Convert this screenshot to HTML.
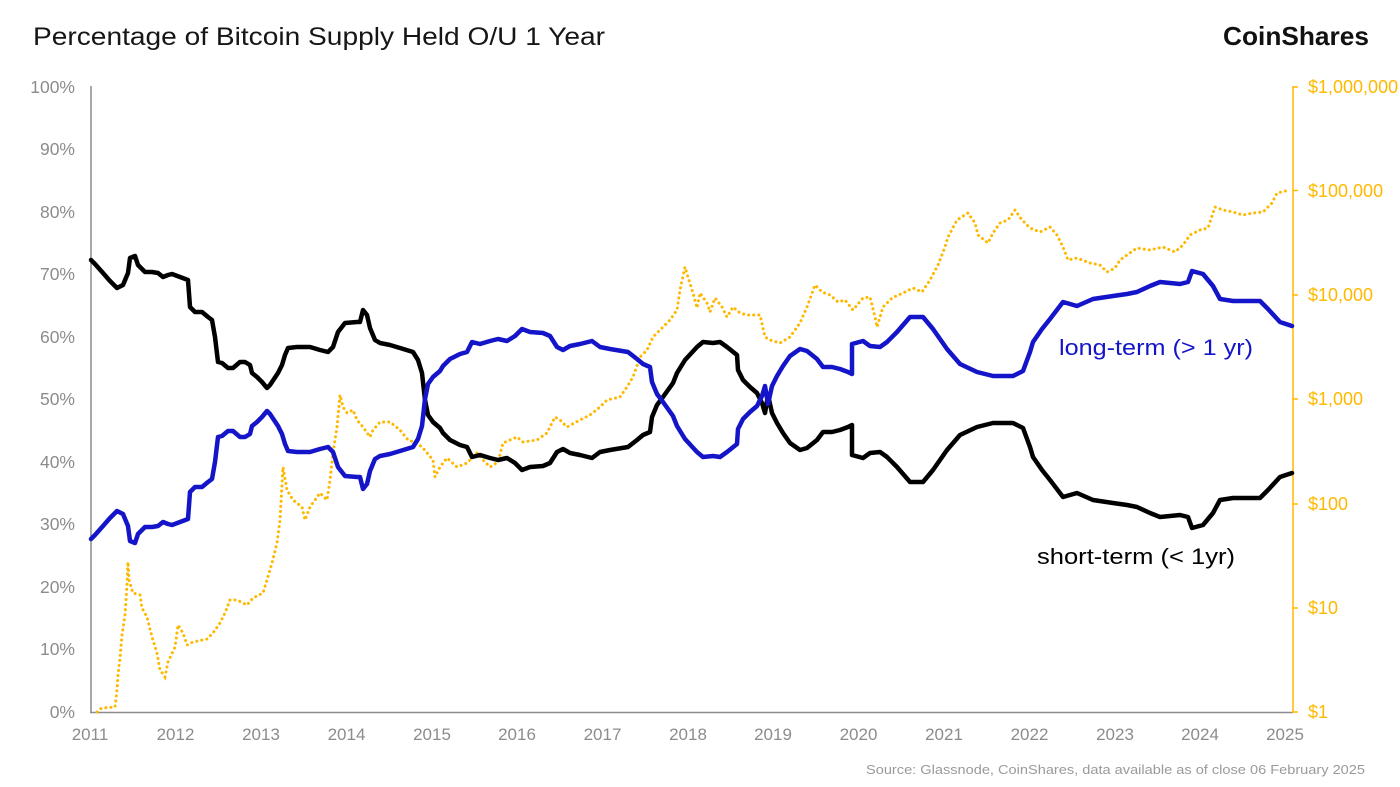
<!DOCTYPE html>
<html><head><meta charset="utf-8"><style>
html,body{margin:0;padding:0;background:#fff;}
svg{display:block;}
text{font-family:"Liberation Sans",sans-serif;}
</style></head><body>
<svg width="1400" height="787" viewBox="0 0 1400 787" xmlns="http://www.w3.org/2000/svg">
<rect width="1400" height="787" fill="#fff"/>
<text x="33" y="45" font-size="25" fill="#161616" textLength="572" lengthAdjust="spacingAndGlyphs">Percentage of Bitcoin Supply Held O/U 1 Year</text>
<text x="1223" y="45" font-size="26" font-weight="bold" fill="#111" textLength="146" lengthAdjust="spacingAndGlyphs">CoinShares</text>

<g font-size="17.5" fill="#8c8c8c" text-anchor="end">
<text x="75" y="93">100%</text>
<text x="75" y="155">90%</text>
<text x="75" y="218">80%</text>
<text x="75" y="280">70%</text>
<text x="75" y="343">60%</text>
<text x="75" y="405">50%</text>
<text x="75" y="468">40%</text>
<text x="75" y="530">30%</text>
<text x="75" y="593">20%</text>
<text x="75" y="655">10%</text>
<text x="75" y="718">0%</text>
</g>
<g font-size="17" fill="#8c8c8c" text-anchor="middle">
<text x="90" y="740">2011</text>
<text x="175.5" y="740">2012</text>
<text x="261" y="740">2013</text>
<text x="346.5" y="740">2014</text>
<text x="432" y="740">2015</text>
<text x="517" y="740">2016</text>
<text x="602.5" y="740">2017</text>
<text x="688" y="740">2018</text>
<text x="773" y="740">2019</text>
<text x="858.5" y="740">2020</text>
<text x="944" y="740">2021</text>
<text x="1029.5" y="740">2022</text>
<text x="1115" y="740">2023</text>
<text x="1200" y="740">2024</text>
<text x="1285" y="740">2025</text>
</g>
<g font-size="18" fill="#FFB800">
<text x="1308" y="93">$1,000,000</text>
<text x="1308" y="197">$100,000</text>
<text x="1308" y="301">$10,000</text>
<text x="1308" y="405">$1,000</text>
<text x="1308" y="510">$100</text>
<text x="1308" y="614">$10</text>
<text x="1308" y="718">$1</text>
</g>
<text x="866" y="774" font-size="13" fill="#9a9a9a" textLength="499" lengthAdjust="spacingAndGlyphs">Source: Glassnode, CoinShares, data available as of close 06 February 2025</text>

<!-- axes -->
<line x1="91" y1="86" x2="91" y2="713" stroke="#8c8c8c" stroke-width="1.5"/>
<line x1="90" y1="712.5" x2="1293" y2="712.5" stroke="#8c8c8c" stroke-width="1.5"/>
<line x1="1293" y1="86" x2="1293" y2="713" stroke="#FFB800" stroke-width="1.5"/>
<g stroke="#FFB800" stroke-width="1.5">
<line x1="1293" y1="87" x2="1298" y2="87"/>
<line x1="1293" y1="190.5" x2="1298" y2="190.5"/>
<line x1="1293" y1="295" x2="1298" y2="295"/>
<line x1="1293" y1="399" x2="1298" y2="399"/>
<line x1="1293" y1="504" x2="1298" y2="504"/>
<line x1="1293" y1="608" x2="1298" y2="608"/>
<line x1="1293" y1="712" x2="1298" y2="712"/>
</g>

<!-- gold price dotted -->
<polyline fill="none" stroke="#FFB800" stroke-width="3" stroke-linecap="round" stroke-dasharray="0.1 5" points="97,712 100,709 103,708 115,707 117,690 118,675 120,658 122,635 125,615 127,585 128,562 129,580 133,593 140,595 142,608 147,617 152,637 157,653 160,670 165,677 168,662 175,647 178,625 183,633 187,645 193,642 207,639 213,633 220,623 225,613 230,600 237,600 247,605 253,598 263,593 267,580 272,563 277,543 280,520 283,467 287,490 293,500 302,507 305,520 310,507 320,493 327,500 330,480 333,453 337,427 340,395 343,407 347,413 353,410 357,420 363,427 370,437 373,430 380,422 390,422 400,430 408,440 417,443 423,448 433,460 435,477 440,467 447,458 457,467 467,463 477,453 483,460 490,467 498,462 503,443 510,440 517,437 523,442 537,440 547,433 555,417 560,420 567,427 580,420 590,415 600,407 607,400 620,397 627,387 633,377 640,357 647,350 653,337 660,330 670,320 677,310 680,290 685,267 688,277 693,293 697,308 700,293 707,303 710,312 715,298 722,307 727,317 733,307 740,313 747,315 760,315 765,337 770,340 780,343 790,337 800,323 807,307 815,285 822,292 830,295 838,302 845,300 853,310 863,298 870,297 875,317 877,327 883,307 892,298 903,293 913,288 922,292 930,280 938,265 945,247 948,237 957,220 968,213 975,223 978,235 988,243 993,233 1000,223 1008,220 1015,210 1022,220 1030,228 1040,232 1050,227 1057,235 1063,247 1068,260 1077,258 1090,263 1100,265 1107,272 1115,268 1120,260 1127,255 1137,248 1150,250 1163,247 1175,252 1183,245 1190,235 1200,230 1208,228 1215,207 1223,210 1233,212 1243,215 1253,213 1263,212 1272,203 1277,193 1290,190"/>

<!-- short-term black; long-term blue = mirror -->
<g fill="none" stroke-width="4.5" stroke-linejoin="round" stroke-linecap="round">
<polyline stroke="#000" points="91,260 95,264 103,273 110,281 117,288 123,285 128,273 130,258 135,256 138,265 145,272 152,272 158,273 163,277 168,275 172,274 180,277 188,280 190,307 195,312 202,312 208,317 212,320 215,337 218,362 222,363 228,368 233,368 240,362 245,362 250,365 252,373 257,377 262,382 267,388 270,385 278,373 282,365 285,355 288,348 297,347 310,347 320,350 328,352 333,347 338,332 345,323 357,322 360,322 363,310 367,315 370,328 375,340 380,343 390,345 400,348 413,352 418,360 422,373 425,400 428,415 433,422 440,428 443,433 450,440 460,445 467,447 472,457 480,455 490,458 498,460 507,458 515,463 522,470 530,467 543,466 550,463 557,452 563,449 570,453 580,455 592,458 600,452 610,450 622,448 628,447 637,440 643,435 650,432 652,417 657,405 663,397 673,383 677,373 685,360 697,347 703,342 713,343 720,342 727,347 737,355 738,370 743,380 750,387 757,393 762,403 765,413 768,395 772,413 777,423 783,433 790,443 800,450 807,448 817,440 823,432 832,432 840,430 848,427 852,425 852,455 863,458 870,453 880,452 887,457 897,467 910,482 923,482 933,470 947,450 960,435 977,427 993,423 1013,423 1023,428 1030,447 1033,457 1042,470 1050,480 1063,497 1077,493 1093,500 1113,503 1127,505 1137,507 1150,513 1160,517 1180,515 1188,517 1192,528 1203,525 1213,513 1220,500 1233,498 1260,498 1268,490 1280,477 1292,473"/>
<polyline stroke="#1414C8" transform="matrix(1 0 0 -1 0 799)" points="91,260 95,264 103,273 110,281 117,288 123,285 128,273 130,258 135,256 138,265 145,272 152,272 158,273 163,277 168,275 172,274 180,277 188,280 190,307 195,312 202,312 208,317 212,320 215,337 218,362 222,363 228,368 233,368 240,362 245,362 250,365 252,373 257,377 262,382 267,388 270,385 278,373 282,365 285,355 288,348 297,347 310,347 320,350 328,352 333,347 338,332 345,323 357,322 360,322 363,310 367,315 370,328 375,340 380,343 390,345 400,348 413,352 418,360 422,373 425,400 428,415 433,422 440,428 443,433 450,440 460,445 467,447 472,457 480,455 490,458 498,460 507,458 515,463 522,470 530,467 543,466 550,463 557,452 563,449 570,453 580,455 592,458 600,452 610,450 622,448 628,447 637,440 643,435 650,432 652,417 657,405 663,397 673,383 677,373 685,360 697,347 703,342 713,343 720,342 727,347 737,355 738,370 743,380 750,387 757,393 762,403 765,413 768,395 772,413 777,423 783,433 790,443 800,450 807,448 817,440 823,432 832,432 840,430 848,427 852,425 852,455 863,458 870,453 880,452 887,457 897,467 910,482 923,482 933,470 947,450 960,435 977,427 993,423 1013,423 1023,428 1030,447 1033,457 1042,470 1050,480 1063,497 1077,493 1093,500 1113,503 1127,505 1137,507 1150,513 1160,517 1180,515 1188,517 1192,528 1203,525 1213,513 1220,500 1233,498 1260,498 1268,490 1280,477 1292,473"/>
</g>

<text x="1059" y="355" font-size="22" fill="#1414C8" textLength="194" lengthAdjust="spacingAndGlyphs">long-term (&gt; 1 yr)</text>
<text x="1037" y="564" font-size="22" fill="#000" textLength="198" lengthAdjust="spacingAndGlyphs">short-term (&lt; 1yr)</text>
</svg>
</body></html>
